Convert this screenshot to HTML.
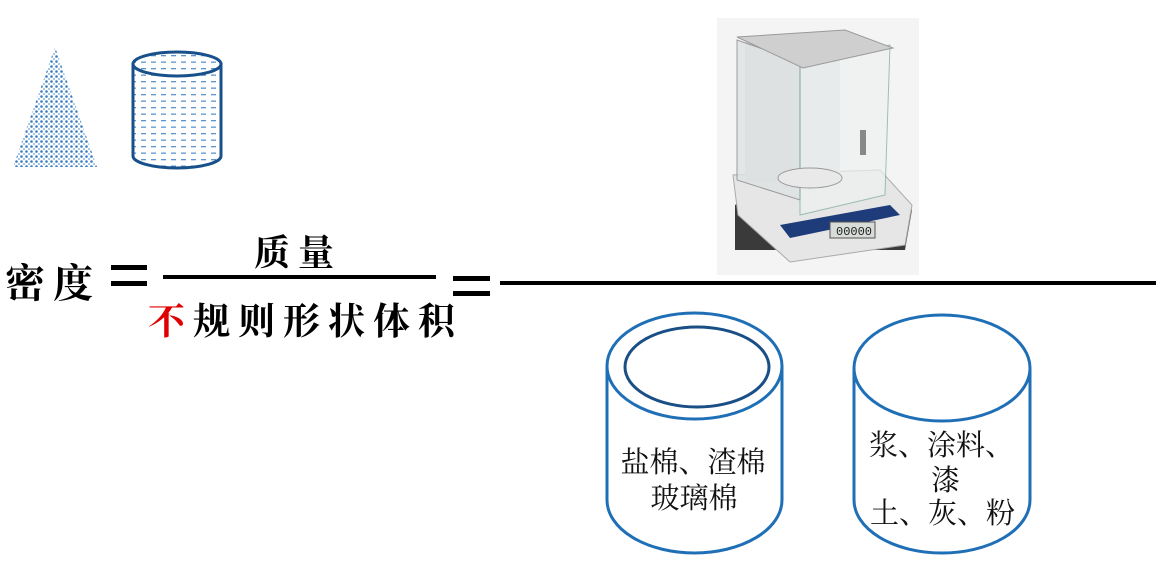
<!DOCTYPE html>
<html><head><meta charset="utf-8"><style>
body{margin:0;background:#fff;width:1159px;height:577px;overflow:hidden}
svg{display:block}
.k{font-family:"Liberation Serif","Noto Serif CJK SC",serif;font-weight:bold;fill:#000}
.s{font-family:"Liberation Serif","Noto Serif CJK SC",serif;fill:#111}
</style></head><body>
<svg width="1159" height="577" viewBox="0 0 1159 577" xmlns="http://www.w3.org/2000/svg">
<defs>
<pattern id="dots" width="5" height="5" patternUnits="userSpaceOnUse">
<rect width="5" height="5" fill="#fff"/><circle cx="1.5" cy="1.5" r="1.3" fill="#3a7cc0"/><circle cx="4" cy="4" r="0.9" fill="#6aa0d6"/>
</pattern>
<pattern id="dash" width="10" height="6.5" patternUnits="userSpaceOnUse">
<rect width="10" height="6.5" fill="#fff"/><rect x="1" y="3" width="5" height="1.3" fill="#5b94cc"/>
</pattern>
</defs>
<!-- cone -->
<polygon points="55,47 13,167 97,167" fill="url(#dots)"/>
<!-- cylinder -->
<path d="M133,64 L133,156 A44,12 0 0 0 221,156 L221,64 Z" fill="url(#dash)" stroke="#17508a" stroke-width="3"/>
<ellipse cx="177" cy="64" rx="44" ry="12" fill="url(#dash)" stroke="#17508a" stroke-width="3"/>

<!-- balance -->
<rect x="717" y="18" width="202" height="257" fill="#f4f4f4"/>
<path d="M735,250 L905,250 L912,210 L895,190 L760,190 L735,205 Z" fill="#3a3a3a"/>
<path d="M733,175 L880,170 L912,205 L905,245 L790,262 L738,215 Z" fill="#e6e6e6" stroke="#aaa"/>
<path d="M780,225 L890,205 L900,215 L790,238 Z" fill="#1e3c7a"/>
<rect x="830" y="222" width="45" height="16" fill="#d8dcd8" stroke="#555"/>
<text x="836" y="235" font-family="Liberation Mono,monospace" font-size="12" fill="#222">00000</text>
<rect x="745" y="42" width="95" height="140" fill="#d9dadb" opacity="0.9"/>
<path d="M737,40 L800,62 L800,200 L737,180 Z" fill="#dfe3e3" stroke="#888" opacity="0.8"/>
<path d="M800,62 L890,45 L885,195 L800,215 Z" fill="#eef2f1" stroke="#7a9" opacity="0.7"/>
<path d="M737,37 L845,30 L893,48 L803,68 Z" fill="#cfcfcf" stroke="#999"/>
<ellipse cx="810" cy="178" rx="32" ry="10" fill="#e9e9e9" stroke="#999"/>
<rect x="860" y="130" width="6" height="25" fill="#888"/>

<!-- formula -->
<text class="k" x="5" y="297" font-size="40" letter-spacing="8">密度</text>
<rect x="111" y="265" width="36" height="5" fill="#000"/>
<rect x="111" y="281" width="36" height="5" fill="#000"/>
<rect x="163" y="275" width="273" height="4" fill="#000"/>
<text class="k" x="254" y="265" font-size="36" letter-spacing="8">质量</text>
<text class="k" x="148" y="334" font-size="37" letter-spacing="8"><tspan fill="#e00000">不</tspan>规则形状体积</text>
<rect x="453" y="276" width="37" height="5" fill="#000"/>
<rect x="453" y="291" width="37" height="5" fill="#000"/>
<rect x="500" y="281" width="656" height="4" fill="#000"/>

<!-- left container -->
<path d="M607,366 L607,500 A87.5,53 0 0 0 782,500 L782,366" fill="none" stroke="#1f6fb6" stroke-width="3"/>
<ellipse cx="694.5" cy="366" rx="87.5" ry="53" fill="none" stroke="#1f6fb6" stroke-width="3"/>
<ellipse cx="697" cy="367" rx="72" ry="40" fill="none" stroke="#1a4f86" stroke-width="3"/>
<text class="s" x="693" y="472" font-size="29" text-anchor="middle">盐棉、渣棉</text>
<text class="s" x="694" y="508" font-size="29" text-anchor="middle">玻璃棉</text>

<!-- right container -->
<path d="M854,368 L854,500 A88,53 0 0 0 1030,500 L1030,368" fill="none" stroke="#1f6fb6" stroke-width="3"/>
<ellipse cx="942" cy="368" rx="88" ry="53" fill="none" stroke="#1f6fb6" stroke-width="3"/>
<text class="s" x="869" y="455" font-size="29">浆、涂料、</text>
<text class="s" x="931" y="490" font-size="29">漆</text>
<text class="s" x="870" y="523" font-size="29">土、灰、粉</text>
</svg>
</body></html>
